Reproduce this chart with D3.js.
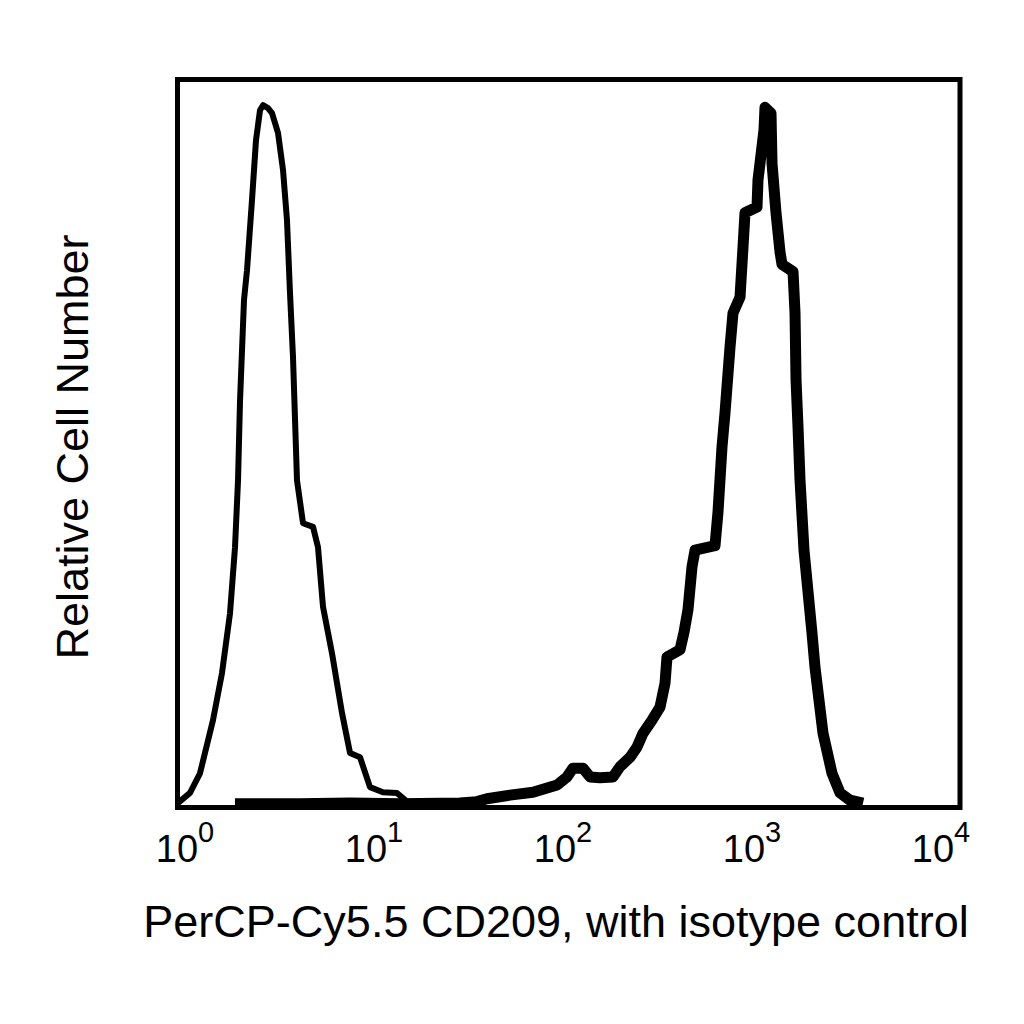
<!DOCTYPE html>
<html>
<head>
<meta charset="utf-8">
<script src="https://cdn.jsdelivr.net/npm/d3@7/dist/d3.min.js"></script>
<style>
  body { margin: 0; background: #fff; }
  text { font-family: Arial, "Liberation Sans", sans-serif; fill: #000; }
</style>
</head>
<body>
<svg id="chart" width="1024" height="1024"></svg>
<script>
// isotype control (thin line)
var isoX = [1.01, 1.165, 1.31, 1.526, 1.697, 1.864, 1.977, 2.048, 2.097, 2.197, 2.276, 2.414, 2.53, 2.652, 2.747,
    2.913, 3.053, 3.276, 3.474, 3.64, 3.771, 3.906, 4.095, 4.395, 4.942, 5.241, 5.558, 6.178, 6.947, 7.633,
    8.585, 9.654, 11.24, 13.25, 14.91, 19.5];
var isoY = [0.4, 1.8, 4.5, 11.8, 18.3, 26.5, 35.6, 44.8, 55.8, 69.6, 73.7, 83.4, 91.6, 95.7, 96.4,
    96.0, 95.3, 92.6, 87.5, 80.6, 70.6, 61.8, 44.8, 38.9, 38.4, 35.6, 27.4, 21.0, 12.8, 7.3,
    6.7, 2.6, 1.9, 1.8, 0.6, 0.4];

// PerCP-Cy5.5 CD209 stained (thick line)
var cdX = [1.976, 4.243, 7.633, 13.73, 27.79, 33.93, 38.15, 50.0, 65.5, 86.9, 97.7, 104.8, 117.9, 128.0, 143.9,
    167.7, 182.0, 204.8, 222.3, 238.6, 265.2, 291.3, 309.0, 316.2, 368.4, 386.2, 404.6, 424.3, 439.5, 555.8,
    575.6, 603.5, 625.2, 662.9, 686.7, 745.6, 772.4, 790.7, 910.4, 921.0, 988.3, 1000, 1073, 1086, 1138,
    1193, 1221, 1390, 1423, 1440, 1474, 1509, 1581, 1737, 1799, 1977, 2197, 2414, 2715, 3162];
var cdY = [0.3, 0.3, 0.4, 0.3, 0.4, 0.6, 1.0, 1.5, 1.9, 2.9, 4.0, 5.2, 5.2, 4.0, 3.9,
    4.0, 5.4, 6.7, 8.1, 10.0, 11.8, 13.6, 16.9, 20.5, 21.5, 23.9, 27.0, 32.9, 35.2, 35.8,
    40.4, 49.4, 54.1, 63.1, 67.8, 70.0, 76.9, 81.6, 82.4, 86.1, 93.0, 96.1, 95.3, 88.4, 81.6,
    76.2, 74.5, 73.5, 67.8, 58.6, 52.1, 44.8, 35.2, 23.8, 19.1, 10.0, 4.5, 1.8, 0.8, 0.4];

var tickValues = [1, 10, 100, 1000, 10000];
var tickExp = ["0", "1", "2", "3", "4"];

var svg = d3.select('#chart');

var x = d3.scaleLog().domain([1, 10000]).range([177, 961]);
var y = d3.scaleLinear().domain([0, 100]).range([806, 79]);
// the labels sit slightly inside the decade positions in the original
var xLabel = d3.scaleLog().domain([1, 10000]).range([185, 941]);

var line = d3.line()
    .x(function(d) { return x(d[0]); })
    .y(function(d) { return y(d[1]); });

svg.append('path')
    .datum(d3.zip(isoX, isoY))
    .attr('d', line)
    .style('fill', 'none')
    .style('stroke', '#000')
    .style('stroke-width', '6px')
    .style('stroke-linejoin', 'round');

svg.append('path')
    .datum(d3.zip(cdX, cdY))
    .attr('d', line)
    .style('fill', 'none')
    .style('stroke', '#000')
    .style('stroke-width', '11px')
    .style('stroke-linejoin', 'round');

// frame
svg.append('rect')
    .attr('x', 177.5)
    .attr('y', 79.5)
    .attr('width', 782.5)
    .attr('height', 728)
    .style('fill', 'none')
    .style('stroke', '#000')
    .style('stroke-width', '5px');

// tick labels 10^n
var labels = svg.append('g')
    .selectAll('text')
    .data(tickValues)
    .enter()
    .append('text')
    .attr('x', function(d) { return xLabel(d); })
    .attr('y', 862)
    .style('text-anchor', 'middle')
    .style('font-size', '38px');
labels.append('tspan').text('10');
labels.append('tspan')
    .attr('dy', -20)
    .style('font-size', '29px')
    .text(function(d, i) { return tickExp[i]; });

svg.append('text')
    .attr('x', 556)
    .attr('y', 937)
    .style('text-anchor', 'middle')
    .style('font-size', '45px')
    .text('PerCP-Cy5.5 CD209, with isotype control');

svg.append('text')
    .attr('transform', 'translate(88,447) rotate(-90)')
    .style('text-anchor', 'middle')
    .style('font-size', '45px')
    .text('Relative Cell Number');
</script>
</body>
</html>
